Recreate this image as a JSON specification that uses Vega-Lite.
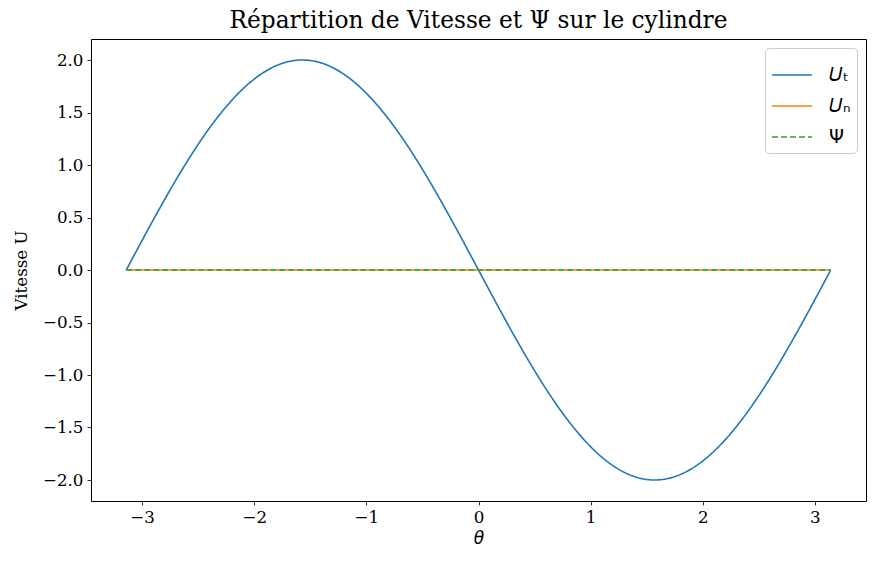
{
  "$schema": "https://vega.github.io/schema/vega-lite/v6.json",
  "width": 775,
  "height": 462,
  "autosize": {"type": "none"},
  "padding": {"left": 91, "top": 39, "right": 9, "bottom": 62},
  "background": "white",
  "title": {
    "text": "Répartition de Vitesse et Ψ sur le cylindre",
    "font": "DejaVu Serif",
    "fontSize": 23.3,
    "fontWeight": "normal",
    "color": "black",
    "offset": 6,
    "anchor": "middle"
  },
  "config": {
    "view": {"stroke": "black", "strokeWidth": 1},
    "axis": {
      "labelFont": "DejaVu Serif",
      "labelFontSize": 16.7,
      "labelColor": "black",
      "tickColor": "black",
      "tickSize": 4,
      "tickWidth": 0.8,
      "domain": false,
      "grid": false,
      "titleFontWeight": "normal",
      "titleColor": "black"
    }
  },
  "data": {
    "values": [
      {"theta": -3.1416, "U": 0.0, "s": "𝑈ₜ", "o": 0},
      {"theta": -2.9845, "U": 0.3129, "s": "𝑈ₜ", "o": 0},
      {"theta": -2.8274, "U": 0.618, "s": "𝑈ₜ", "o": 0},
      {"theta": -2.6704, "U": 0.908, "s": "𝑈ₜ", "o": 0},
      {"theta": -2.5133, "U": 1.1756, "s": "𝑈ₜ", "o": 0},
      {"theta": -2.3562, "U": 1.4142, "s": "𝑈ₜ", "o": 0},
      {"theta": -2.1991, "U": 1.618, "s": "𝑈ₜ", "o": 0},
      {"theta": -2.042, "U": 1.782, "s": "𝑈ₜ", "o": 0},
      {"theta": -1.885, "U": 1.9021, "s": "𝑈ₜ", "o": 0},
      {"theta": -1.7279, "U": 1.9754, "s": "𝑈ₜ", "o": 0},
      {"theta": -1.5708, "U": 2.0, "s": "𝑈ₜ", "o": 0},
      {"theta": -1.4137, "U": 1.9754, "s": "𝑈ₜ", "o": 0},
      {"theta": -1.2566, "U": 1.9021, "s": "𝑈ₜ", "o": 0},
      {"theta": -1.0996, "U": 1.782, "s": "𝑈ₜ", "o": 0},
      {"theta": -0.9425, "U": 1.618, "s": "𝑈ₜ", "o": 0},
      {"theta": -0.7854, "U": 1.4142, "s": "𝑈ₜ", "o": 0},
      {"theta": -0.6283, "U": 1.1756, "s": "𝑈ₜ", "o": 0},
      {"theta": -0.4712, "U": 0.908, "s": "𝑈ₜ", "o": 0},
      {"theta": -0.3142, "U": 0.618, "s": "𝑈ₜ", "o": 0},
      {"theta": -0.1571, "U": 0.3129, "s": "𝑈ₜ", "o": 0},
      {"theta": 0.0, "U": 0.0, "s": "𝑈ₜ", "o": 0},
      {"theta": 0.1571, "U": -0.3129, "s": "𝑈ₜ", "o": 0},
      {"theta": 0.3142, "U": -0.618, "s": "𝑈ₜ", "o": 0},
      {"theta": 0.4712, "U": -0.908, "s": "𝑈ₜ", "o": 0},
      {"theta": 0.6283, "U": -1.1756, "s": "𝑈ₜ", "o": 0},
      {"theta": 0.7854, "U": -1.4142, "s": "𝑈ₜ", "o": 0},
      {"theta": 0.9425, "U": -1.618, "s": "𝑈ₜ", "o": 0},
      {"theta": 1.0996, "U": -1.782, "s": "𝑈ₜ", "o": 0},
      {"theta": 1.2566, "U": -1.9021, "s": "𝑈ₜ", "o": 0},
      {"theta": 1.4137, "U": -1.9754, "s": "𝑈ₜ", "o": 0},
      {"theta": 1.5708, "U": -2.0, "s": "𝑈ₜ", "o": 0},
      {"theta": 1.7279, "U": -1.9754, "s": "𝑈ₜ", "o": 0},
      {"theta": 1.885, "U": -1.9021, "s": "𝑈ₜ", "o": 0},
      {"theta": 2.042, "U": -1.782, "s": "𝑈ₜ", "o": 0},
      {"theta": 2.1991, "U": -1.618, "s": "𝑈ₜ", "o": 0},
      {"theta": 2.3562, "U": -1.4142, "s": "𝑈ₜ", "o": 0},
      {"theta": 2.5133, "U": -1.1756, "s": "𝑈ₜ", "o": 0},
      {"theta": 2.6704, "U": -0.908, "s": "𝑈ₜ", "o": 0},
      {"theta": 2.8274, "U": -0.618, "s": "𝑈ₜ", "o": 0},
      {"theta": 2.9845, "U": -0.3129, "s": "𝑈ₜ", "o": 0},
      {"theta": 3.1416, "U": 0.0, "s": "𝑈ₜ", "o": 0},
      {"theta": -3.1416, "U": 0.0, "s": "𝑈ₙ", "o": 1},
      {"theta": 3.1416, "U": 0.0, "s": "𝑈ₙ", "o": 1},
      {"theta": -3.1416, "U": 0.0, "s": "Ψ", "o": 2},
      {"theta": 3.1416, "U": 0.0, "s": "Ψ", "o": 2}
    ]
  },
  "mark": {"type": "line", "strokeWidth": 1.6, "clip": true, "interpolate": "natural"},
  "encoding": {
    "x": {
      "field": "theta",
      "type": "quantitative",
      "scale": {"domain": [-3.456, 3.456], "nice": false, "zero": false},
      "axis": {
        "values": [-3, -2, -1, 0, 1, 2, 3],
        "format": "d",
        "title": "θ",
        "titleFont": "DejaVu Sans",
        "titleFontStyle": "italic",
        "titleFontSize": 17,
        "titlePadding": 5,
        "labelPadding": 4
      }
    },
    "y": {
      "field": "U",
      "type": "quantitative",
      "scale": {"domain": [-2.2, 2.2], "nice": false, "zero": false},
      "axis": {
        "values": [-2, -1.5, -1, -0.5, 0, 0.5, 1, 1.5, 2],
        "format": ".1f",
        "title": "Vitesse U",
        "titleFont": "DejaVu Serif",
        "titleFontSize": 16.7,
        "titlePadding": 12,
        "labelPadding": 4
      }
    },
    "color": {
      "field": "s",
      "type": "nominal",
      "scale": {"domain": ["𝑈ₜ", "𝑈ₙ", "Ψ"], "range": ["#1f77b4", "#ff7f0e", "#2ca02c"]},
      "legend": {
        "title": null,
        "orient": "top-right",
        "offset": 9,
        "fillColor": "white",
        "strokeColor": "#cccccc",
        "cornerRadius": 4,
        "padding": 6,
        "symbolType": "stroke",
        "symbolSize": 1600,
        "symbolStrokeWidth": 1.6,
        "labelFont": "DejaVu Sans",
        "labelFontSize": 19,
        "labelColor": "black",
        "rowPadding": -14,
        "labelOffset": 16
      }
    },
    "strokeDash": {
      "field": "s",
      "type": "nominal",
      "scale": {"domain": ["𝑈ₜ", "𝑈ₙ", "Ψ"], "range": [[1, 0], [1, 0], [6, 3]]},
      "legend": null
    },
    "order": {"field": "o", "type": "quantitative"}
  }
}
